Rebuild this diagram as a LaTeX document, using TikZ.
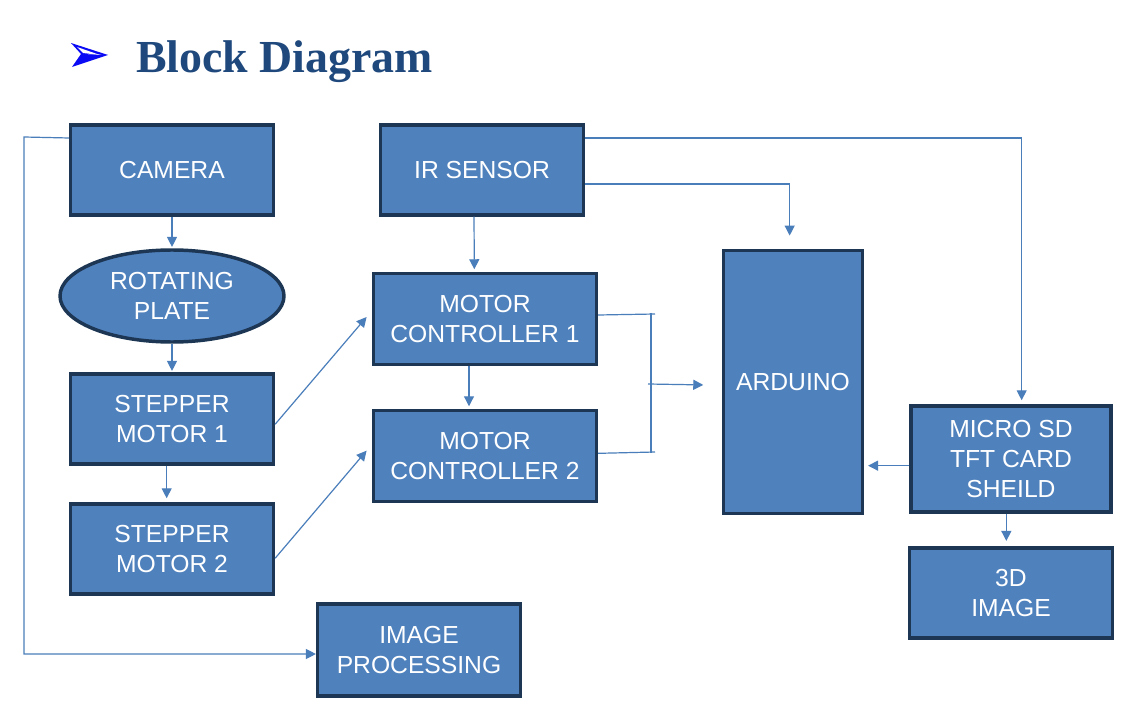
\documentclass[tikz,border=0pt]{standalone}
\usepackage{fontspec}
\setmainfont{Liberation Sans}
\newfontfamily\titlefont{Liberation Serif}
\usetikzlibrary{arrows.meta,shapes.geometric,calc}
\definecolor{boxfill}{HTML}{4F81BD}
\definecolor{boxline}{HTML}{1C3654}
\definecolor{conncol}{HTML}{4A7EBB}
\definecolor{titlecol}{HTML}{1F497D}
\definecolor{bullet}{HTML}{0A0AF5}
\begin{document}
\begin{tikzpicture}[x=0.75pt,y=-0.75pt,
  blk/.style={draw=boxline,fill=boxfill,line width=2.6pt,text=white,align=center,
    font=\fontsize{18.5pt}{22.3pt}\selectfont,inner sep=0pt,
    minimum width=152pt,minimum height=67.5pt},
  oval/.style={blk,ellipse,minimum width=168pt,minimum height=69pt},
  conn/.style={draw=conncol,line width=0.9pt,-{Triangle[length=7.5pt,width=7.5pt]}},
  plain/.style={draw=conncol,line width=0.9pt}]
\useasboundingbox[fill=white] (0,0) rectangle (1128,709);
% title
\fill[bullet] (71,43) -- (108,55) -- (81,54) -- cycle;
\fill[bullet] (72,67) -- (108,55) -- (81,54) -- cycle;
\fill[white] (77,47) -- (100,55) -- (83,53) -- cycle;
\node[anchor=base west,inner sep=0pt,text=titlecol,font=\titlefont\bfseries\fontsize{34.4pt}{40pt}\selectfont] (title) at (136,73) {Block Diagram};
% nodes
\node[blk] (cam) at (172,170) {CAMERA};
\node[blk] (ir) at (482,170) {IR SENSOR};
\node[oval] (rot) at (172,296) {ROTATING\\PLATE};
\node[blk,minimum width=167pt,minimum height=68pt] (mc1) at (485,319) {MOTOR\\CONTROLLER 1};
\node[blk,minimum width=167pt,minimum height=68pt] (mc2) at (485,456) {MOTOR\\CONTROLLER 2};
\node[blk] (s1) at (172,419) {STEPPER\\MOTOR 1};
\node[blk] (s2) at (172,549) {STEPPER\\MOTOR 2};
\node[blk,minimum width=104pt,minimum height=197pt] (ard) at (793,382) {ARDUINO};
\node[blk,minimum width=150pt,minimum height=79.5pt] (sd) at (1011,459) {MICRO SD\\TFT CARD\\SHEILD};
\node[blk] (img3d) at (1011,593) {3D\\IMAGE};
\node[blk,minimum height=69pt] (ip) at (419,650) {IMAGE\\PROCESSING};
% connectors
\draw[conn] (cam.south) -- ([yshift=1pt]rot.north);
\draw[conn] (rot.south) -- ([yshift=1pt]s1.north);
\draw[conn] ([xshift=-4pt]s1.south) -- ([xshift=-4pt,yshift=3pt]s2.north);
\draw[conn] ([xshift=-6pt]ir.south) -- ([xshift=-8pt,yshift=2pt]mc1.north);
\draw[conn] ([xshift=-12pt]mc1.south) -- ([xshift=-12pt,yshift=2pt]mc2.north);
\draw[conn] ([yshift=-4pt]s1.east) -- ([xshift=-4pt,yshift=1.5pt]mc1.west);
\draw[conn] ([yshift=-7pt]s2.east) -- ([xshift=-4pt,yshift=4pt]mc2.west);
\draw[conn] ([yshift=-10.5pt]ir.east) -| ([xshift=-2.5pt,yshift=10pt]ard.north);
\draw[conn] ([yshift=24pt]ir.east) -| ([xshift=8pt,yshift=3pt]sd.north);
\coordinate (b1) at (655,314);
\coordinate (b2) at (655,452);
\coordinate (bt) at (651,313);
\coordinate (bb) at (651,453);
\coordinate (bm) at (648,384);
\draw[plain] ([yshift=3pt]mc1.east) -- (b1);
\draw[plain] ([yshift=2pt]mc2.east) -- (b2);
\draw[plain] (bt) -- (bb);
\draw[conn] (bm) -- ([xshift=-14pt,yshift=-2.2pt]ard.west);
\coordinate (sdw) at ([yshift=-5pt]sd.west);
\coordinate (ae) at ([xshift=3pt]ard.east);
\draw[conn] (sdw) -- (ae |- sdw);
\draw[conn] ([xshift=-3.5pt]sd.south) -- ([xshift=-3.5pt,yshift=4pt]img3d.north);
\coordinate (camturn) at (24,137);
\draw[conn] ([yshift=24pt]cam.west) -- (camturn) |- ([yshift=-3pt]ip.west);
\end{tikzpicture}
\end{document}
